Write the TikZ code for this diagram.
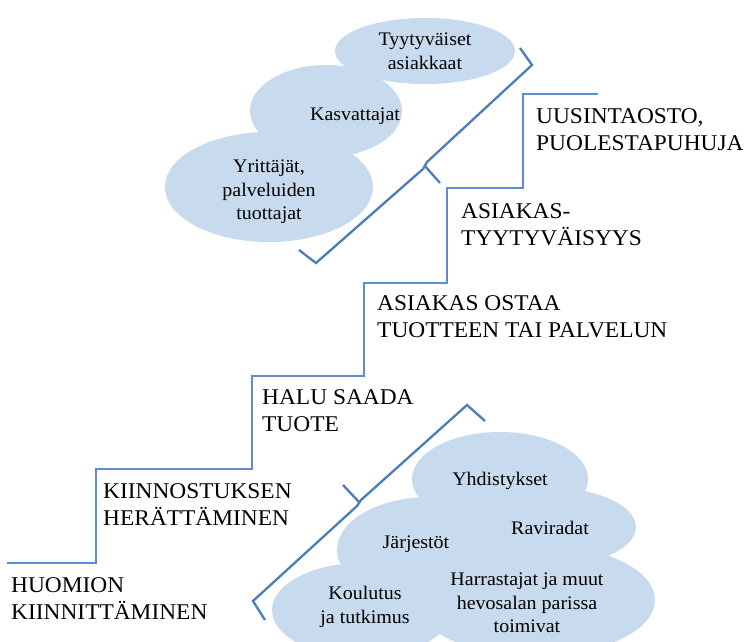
\documentclass[tikz,border=0pt]{standalone}
\usepackage{fontspec}
\setmainfont{Liberation Serif}[FakeStretch=1.04]
\usetikzlibrary{shapes.geometric}
\definecolor{cloudfill}{RGB}{200,218,238}
\definecolor{stairblue}{RGB}{95,140,210}
\definecolor{bracketblue}{RGB}{74,126,187}
\tikzset{
  blob/.style={ellipse, fill=cloudfill, draw=none, inner sep=0pt},
  bigtext/.style={anchor=north west, inner sep=0pt, align=left, font=\fontsize{22.5}{27.5}\selectfont},
  smalltext/.style={anchor=center, inner sep=0pt, align=center, font=\fontsize{19.2}{23.5}\selectfont},
  stairline/.style={draw=stairblue, line width=2pt},
  bracketline/.style={draw=bracketblue, line width=2.3pt, line join=miter}
}
\begin{document}
\begin{tikzpicture}[x=1pt,y=-1pt]
\useasboundingbox (0,0) rectangle (745,641);
\clip (0,0) rectangle (745,641);
\fill[white] (0,0) rectangle (745,641);

% top ellipses
\node[blob, minimum width=180pt, minimum height=66pt] (ty) at (425,51) {};
\node[blob, minimum width=152pt, minimum height=92pt] (ka) at (326,111) {};
\node[blob, minimum width=208pt, minimum height=110pt] (yr) at (269,187) {};

\node[smalltext] (tyt) at (425,51) {Tyytyväiset\\asiakkaat};
\node[smalltext] (kat) at (355,116) {Kasvattajat};
\node[smalltext] (yrt) at (269,192) {Yrittäjät,\\palveluiden\\tuottajat};

% bottom cloud
\node[blob, minimum width=176pt, minimum height=94pt] (yh) at (500,479) {};
\node[blob, minimum width=182pt, minimum height=80pt] (ra) at (545,527) {};
\node[blob, minimum width=186pt, minimum height=106pt] (ja) at (430,550) {};
\node[blob, minimum width=240pt, minimum height=112pt] (ha) at (535,600) {};
\node[blob, minimum width=180pt, minimum height=94pt] (ko) at (362,610) {};

\node[smalltext] (yht) at (500,481) {Yhdistykset};
\node[smalltext] (rat) at (550,528) {Raviradat};
\node[smalltext] (jat) at (416,544) {Järjestöt};
\node[smalltext] (hat) at (527,603) {Harrastajat ja muut\\hevosalan parissa\\toimivat};
\node[smalltext] (kot) at (365,607) {Koulutus\\ja tutkimus};

% stairs
\coordinate (s0) at (7,563);
\coordinate (s1) at (96,563);
\coordinate (s2) at (96,469);
\coordinate (s3) at (252,469);
\coordinate (s4) at (252,376);
\coordinate (s5) at (364,376);
\coordinate (s6) at (364,283);
\coordinate (s7) at (447,283);
\coordinate (s8) at (447,188);
\coordinate (s9) at (523,188);
\coordinate (s10) at (523,94);
\coordinate (s11) at (598,94);
\draw[stairline] (s0) -- (s1) -- (s2) -- (s3) -- (s4) -- (s5) -- (s6) -- (s7) -- (s8) -- (s9) -- (s10) -- (s11);

% stair labels
\node[bigtext] (l6) at (536,108.3) {UUSINTAOSTO,\\PUOLESTAPUHUJA};
\node[bigtext] (l5) at (461,203.3) {ASIAKAS-\\TYYTYVÄISYYS};
\node[bigtext] (l4) at (377,295.3) {ASIAKAS OSTAA\\TUOTTEEN TAI PALVELUN};
\node[bigtext] (l3) at (262,389.3) {HALU SAADA\\TUOTE};
\node[bigtext] (l2) at (103,483.3) {KIINNOSTUKSEN\\HERÄTTÄMINEN};
\node[bigtext] (l1) at (11,577.3) {HUOMION\\KIINNITTÄMINEN};

% top bracket
\coordinate (a0) at (299,250);
\coordinate (a1) at (316,263);
\coordinate (a2) at (423,169);
\coordinate (a3) at (427,162);
\coordinate (a4) at (532,65);
\coordinate (a5) at (520,48);
\coordinate (at0) at (425,166);
\coordinate (at1) at (440,183);
\draw[bracketline] (a0) -- (a1) -- (a2) -- (a3) -- (a4) -- (a5);
\draw[bracketline] (at0) -- (at1);

% bottom bracket
\coordinate (b0) at (485,421);
\coordinate (b1) at (467,405);
\coordinate (b2) at (361,500);
\coordinate (b3) at (357,506);
\coordinate (b4) at (253,601);
\coordinate (b5) at (265,620);
\coordinate (bt0) at (359,502);
\coordinate (bt1) at (343,485);
\draw[bracketline] (b0) -- (b1) -- (b2) -- (b3) -- (b4) -- (b5);
\draw[bracketline] (bt0) -- (bt1);
\end{tikzpicture}
\end{document}
